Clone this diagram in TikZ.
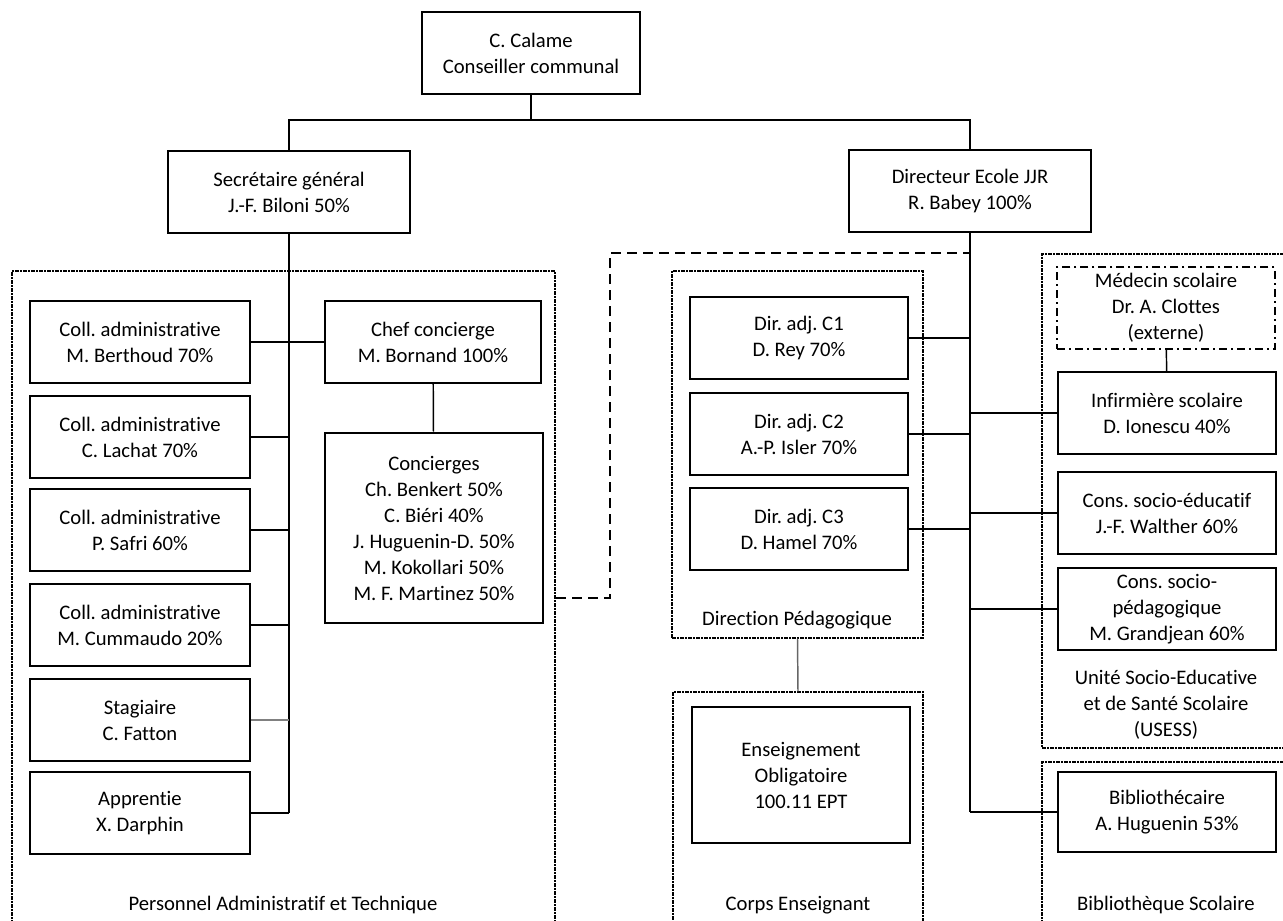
\documentclass[tikz,border=0pt]{standalone}
\usepackage{fontspec}
\setmainfont{Carlito}[Ligatures=NoCommon]
\frenchspacing
\usetikzlibrary{positioning, calc, fit}

\begin{document}
\begin{tikzpicture}[
    x=0.75pt, y=-0.75pt,
    every node/.style={font=\fontsize{15.5}{19.5}\selectfont},
    person/.style={rectangle, draw, line width=1.5pt, minimum width=163.5pt, minimum height=61pt, align=center, inner sep=0pt},
    wide/.style={person, minimum width=182pt},
    extern/.style={person, line width=1.4pt, dash pattern=on 6pt off 3pt on 1.5pt off 3pt},
    group/.style={draw, line width=1.1pt, dash pattern=on 3pt off 1pt on 1pt off 1pt, inner sep=0pt},
    grouplabel/.style={align=center},
    link/.style={draw, line width=1.1pt},
    dashlink/.style={draw, line width=1.5pt, dash pattern=on 7.5pt off 4.5pt}
]
\useasboundingbox (0,0) rectangle (1283,921);
\clip (0,0) rectangle (1283,921);

% top
\node[person] (calame) at (531,53) {C. Calame\\Conseiller communal};
\node[wide] (sec) at (289,192) {Secrétaire général\\J.-F. Biloni 50\%};
\node[wide] (dir) at (970,191) {Directeur Ecole JJR\\R. Babey 100\%};

% groups
\node[group, fit={(12,271) (555,960)}] (pat) {};
\node[group, fit={(672,271) (923,638)}] (dped) {};
\node[group, fit={(673,692) (923,960)}] (corps) {};
\node[group, fit={(1042,254) (1300,748)}] (usess) {};
\node[group, fit={(1042,762) (1300,960)}] (bibs) {};

\node[grouplabel] (patlbl) at (283,905) {Personnel Administratif et Technique};
\node[grouplabel] (dpedlbl) at (797,620) {Direction Pédagogique};
\node[grouplabel] (corpslbl) at (798,905) {Corps Enseignant};
\node[grouplabel] (usesslbl) at (1166,705) {Unité Socio-Educative\\et de Santé Scolaire\\(USESS)};
\node[grouplabel] (bibslbl) at (1166,905) {Bibliothèque Scolaire};

% administratif et technique
\node[person, minimum width=165pt] (berthoud) at (140,342) {Coll. administrative\\M. Berthoud 70\%};
\node[person, minimum width=165pt] (lachat) at (140,437) {Coll. administrative\\C. Lachat 70\%};
\node[person, minimum width=165pt] (safri) at (140,530) {Coll. administrative\\P. Safri 60\%};
\node[person, minimum width=165pt] (cumm) at (140,625) {Coll. administrative\\M. Cummaudo 20\%};
\node[person, minimum width=165pt] (stag) at (140,720) {Stagiaire\\C. Fatton};
\node[person, minimum width=165pt] (appr) at (140,813) {Apprentie\\X. Darphin};
\node[person, minimum width=162pt] (chef) at (433,342) {Chef concierge\\M. Bornand 100\%};
\node[person, minimum height=143pt] (conc) at (434,528) {Concierges\\Ch. Benkert 50\%\\C. Biéri 40\%\\J. Huguenin-D. 50\%\\M. Kokollari 50\%\\M. F. Martinez 50\%};

% direction pedagogique
\node[person, minimum height=62pt] (cun) at (799,338) {Dir. adj. C1\\D. Rey 70\%};
\node[person] (cdeux) at (799,434) {Dir. adj. C2\\A.-P. Isler 70\%};
\node[person, minimum height=62pt] (ctrois) at (799,529) {Dir. adj. C3\\D. Hamel 70\%};
\node[person, minimum height=102pt] (ens) at (801,775) {Enseignement\\Obligatoire\\100.11 EPT};

% usess et bibliotheque
\node[extern] (med) at (1166,308) {\raisebox{-2pt}{\parbox{160pt}{\centering Médecin scolaire\\Dr. A. Clottes\\(externe)}}};
\node[person] (infi) at (1167,413) {Infirmière scolaire\\D. Ionescu 40\%};
\node[person] (walther) at (1167,513) {Cons. socio-éducatif\\J.-F. Walther 60\%};
\node[person] (grand) at (1167,609) {Cons. socio-\\pédagogique\\M. Grandjean 60\%};
\node[person, minimum height=60pt] (bib) at (1167,812) {Bibliothécaire\\A. Huguenin 53\%};

% connectors
\coordinate (split) at (531,120);
\draw[link] (calame) -- (split);
\draw[link] (sec.north) |- (split) -| (dir.north);

\draw[link] (sec.south) -- (sec.south |- appr.east);
\draw[link] (berthoud.east) -- (chef.west);
\draw[link] (lachat.east) -- (lachat.east -| sec.south);
\draw[link] (safri.east) -- (safri.east -| sec.south);
\draw[link] (cumm.east) -- (cumm.east -| sec.south);
\draw[link, gray] (stag.east) -- (stag.east -| sec.south);
\draw[link] (appr.east) -- (appr.east -| sec.south);
\draw[link] (chef) -- (conc);

\draw[link] (dir.south) -- (dir.south |- bib.west);
\draw[link] (cun.east) -- (cun.east -| dir.south);
\draw[link] (cdeux.east) -- (cdeux.east -| dir.south);
\draw[link] (ctrois.east) -- (ctrois.east -| dir.south);
\draw[link] (infi.west) -- (infi.west -| dir.south);
\draw[link] (walther.west) -- (walther.west -| dir.south);
\draw[link] (grand.west) -- (grand.west -| dir.south);
\draw[link] (bib.west) -- (bib.west -| dir.south);
\draw[link] (med) -- (infi);
\draw[link, gray!80!black] (dped.south) -- (corps.north);

\coordinate (dashin) at (556,598);
\coordinate (dashturn) at (610,253);
\draw[dashlink] (dashin) -| (dashturn) -- (dashturn -| dir.south);

\end{tikzpicture}
\end{document}
